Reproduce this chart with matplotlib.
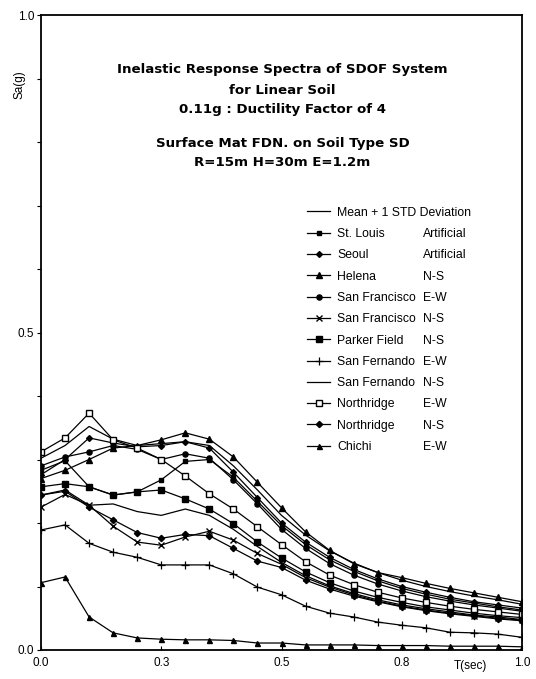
import matplotlib
matplotlib.use("Agg")
import matplotlib.pyplot as plt
from matplotlib.lines import Line2D

plt.rcParams['font.family'] = ['Liberation Sans', 'DejaVu Sans']

# Period (sec)
T = [0.00, 0.05, 0.10, 0.15, 0.20, 0.25, 0.30, 0.35, 0.40, 0.45, 0.50,
     0.55, 0.60, 0.65, 0.70, 0.75, 0.80, 0.85, 0.90, 0.95, 1.00]

mean_std = [0.302, 0.322, 0.352, 0.332, 0.322, 0.325, 0.328, 0.322, 0.290, 0.252, 0.212,
            0.181, 0.156, 0.137, 0.122, 0.110, 0.100, 0.092, 0.085, 0.079, 0.072]
st_louis = [0.283, 0.298, 0.257, 0.244, 0.249, 0.268, 0.297, 0.300, 0.272, 0.234, 0.196,
            0.166, 0.142, 0.124, 0.109, 0.097, 0.088, 0.080, 0.074, 0.068, 0.063]
seoul = [0.276, 0.300, 0.334, 0.326, 0.320, 0.322, 0.328, 0.318, 0.280, 0.240, 0.200,
         0.170, 0.146, 0.127, 0.112, 0.100, 0.091, 0.083, 0.076, 0.071, 0.066]
helena = [0.270, 0.283, 0.300, 0.318, 0.322, 0.331, 0.342, 0.332, 0.304, 0.264, 0.224,
          0.186, 0.157, 0.136, 0.122, 0.114, 0.105, 0.097, 0.090, 0.083, 0.076]
sf_ew = [0.290, 0.304, 0.312, 0.322, 0.316, 0.300, 0.309, 0.302, 0.268, 0.230, 0.190,
         0.160, 0.136, 0.118, 0.104, 0.093, 0.084, 0.077, 0.071, 0.066, 0.061]
sf_ns = [0.225, 0.245, 0.228, 0.195, 0.170, 0.165, 0.178, 0.187, 0.173, 0.152, 0.135,
         0.114, 0.099, 0.087, 0.077, 0.069, 0.063, 0.058, 0.054, 0.050, 0.047]
parker = [0.257, 0.262, 0.257, 0.244, 0.249, 0.252, 0.238, 0.222, 0.199, 0.170, 0.145,
          0.123, 0.106, 0.093, 0.083, 0.075, 0.068, 0.063, 0.058, 0.054, 0.051]
sfer_ew = [0.189, 0.197, 0.168, 0.154, 0.146, 0.134, 0.134, 0.134, 0.120, 0.099, 0.087,
           0.069, 0.058, 0.052, 0.044, 0.039, 0.035, 0.028, 0.027, 0.025, 0.020]
sfer_ns = [0.244, 0.252, 0.228, 0.230, 0.218, 0.212, 0.222, 0.212, 0.190, 0.163, 0.138,
           0.117, 0.101, 0.089, 0.079, 0.071, 0.065, 0.060, 0.055, 0.052, 0.048]
nr_ew = [0.312, 0.334, 0.373, 0.331, 0.318, 0.300, 0.274, 0.246, 0.222, 0.194, 0.166,
         0.139, 0.118, 0.103, 0.091, 0.082, 0.075, 0.069, 0.064, 0.060, 0.056]
nr_ns = [0.244, 0.250, 0.225, 0.205, 0.185, 0.176, 0.182, 0.180, 0.160, 0.140, 0.130,
         0.110, 0.096, 0.085, 0.076, 0.068, 0.062, 0.057, 0.053, 0.049, 0.046]
chichi = [0.106, 0.115, 0.052, 0.027, 0.019, 0.017, 0.016, 0.016, 0.015, 0.011, 0.011,
          0.008, 0.008, 0.008, 0.007, 0.007, 0.007, 0.006, 0.006, 0.006, 0.005]

names = ["Mean + 1 STD Deviation", "St. Louis", "Seoul", "Helena", "San Francisco",
         "San Francisco", "Parker Field", "San Fernando", "San Fernando",
         "Northridge", "Northridge", "Chichi"]
components = [" ", "Artificial", "Artificial", "N-S", "E-W", "N-S", "N-S", "E-W", "N-S",
              "E-W", "N-S", "E-W"]
series = [mean_std, st_louis, seoul, helena, sf_ew, sf_ns, parker, sfer_ew, sfer_ns,
          nr_ew, nr_ns, chichi]

title_lines = ["Inelastic Response Spectra of SDOF System", "for Linear Soil",
               "0.11g : Ductility Factor of 4", "Surface Mat FDN. on Soil Type SD",
               "R=15m H=30m E=1.2m"]
title_rows_px = [70, 90, 110, 143, 162]

styles = [
    dict(marker=None),
    dict(marker='s', ms=3.3),
    dict(marker='D', ms=3.0),
    dict(marker='^', ms=4.2),
    dict(marker='o', ms=3.7),
    dict(marker='x', ms=4.2, mew=1.0),
    dict(marker='s', ms=4.0),
    dict(marker='+', ms=5.5, mew=0.9),
    dict(marker=None),
    dict(marker='s', ms=4.0, mfc='white'),
    dict(marker='D', ms=3.2),
    dict(marker='^', ms=3.6),
]

fig = plt.figure(figsize=(5.36, 6.79), dpi=100)
ax = fig.add_axes([41/536, 29/679, 481/536, 635/679])

handles = []
for vals, st in zip(series, styles):
    kw = dict(color='black', lw=0.9, mec='black', mfc='black')
    kw.update(st)
    h, = ax.plot(T, vals, **kw)
    handles.append(h)

ax.set_xlim(0, 1.0)
ax.set_ylim(0, 1.0)

xticks = [0.0, 0.25, 0.5, 0.75, 1.0]
xticklabels = ["0.0", "0.3", "0.5", "0.8", "1.0"]
ax.set_xticks(xticks)
ax.set_xticklabels(xticklabels)
yticks = [0.0, 0.1, 0.2, 0.3, 0.4, 0.5, 0.6, 0.7, 0.8, 0.9, 1.0]
yticklabels = ["0.0", "", "", "", "", "0.5", "", "", "", "", "1.0"]
ax.set_yticks(yticks)
ax.set_yticklabels(yticklabels)
ax.tick_params(axis='both', direction='in', length=3, width=0.8, labelsize=8.5, pad=5)
ax.tick_params(axis='y', direction='out', length=3, pad=2)
for sp in ax.spines.values():
    sp.set_linewidth(1.3)

ax.text(-0.045, 0.89, "Sa(g)", rotation=90, transform=ax.transAxes,
        ha='center', va='center', fontsize=8.5)
ax.text(0.892, -0.0165, "T(sec)", transform=ax.transAxes, ha='center', va='top',
        fontsize=8.5)

for line, ypx in zip(title_lines, title_rows_px):
    ax.text(0.502, (650 - ypx) / 635, line, transform=ax.transAxes, ha='center',
            va='center', fontsize=9.6, fontweight='bold', family=['DejaVu Sans'])

leg_kw = dict(loc='upper left', frameon=False, fontsize=8.8, labelspacing=0.76,
              borderpad=0, borderaxespad=0)
leg1 = ax.legend(handles, names, bbox_to_anchor=(0.553, 0.698), handlelength=1.9,
                 handletextpad=0.57, **leg_kw)
ax.add_artist(leg1)
blank = [Line2D([], [], color='none') for _ in names]
ax.legend(blank, components, bbox_to_anchor=(0.794, 0.698), handlelength=0,
          handletextpad=0, **leg_kw)

fig.savefig("out.png", dpi=100)
